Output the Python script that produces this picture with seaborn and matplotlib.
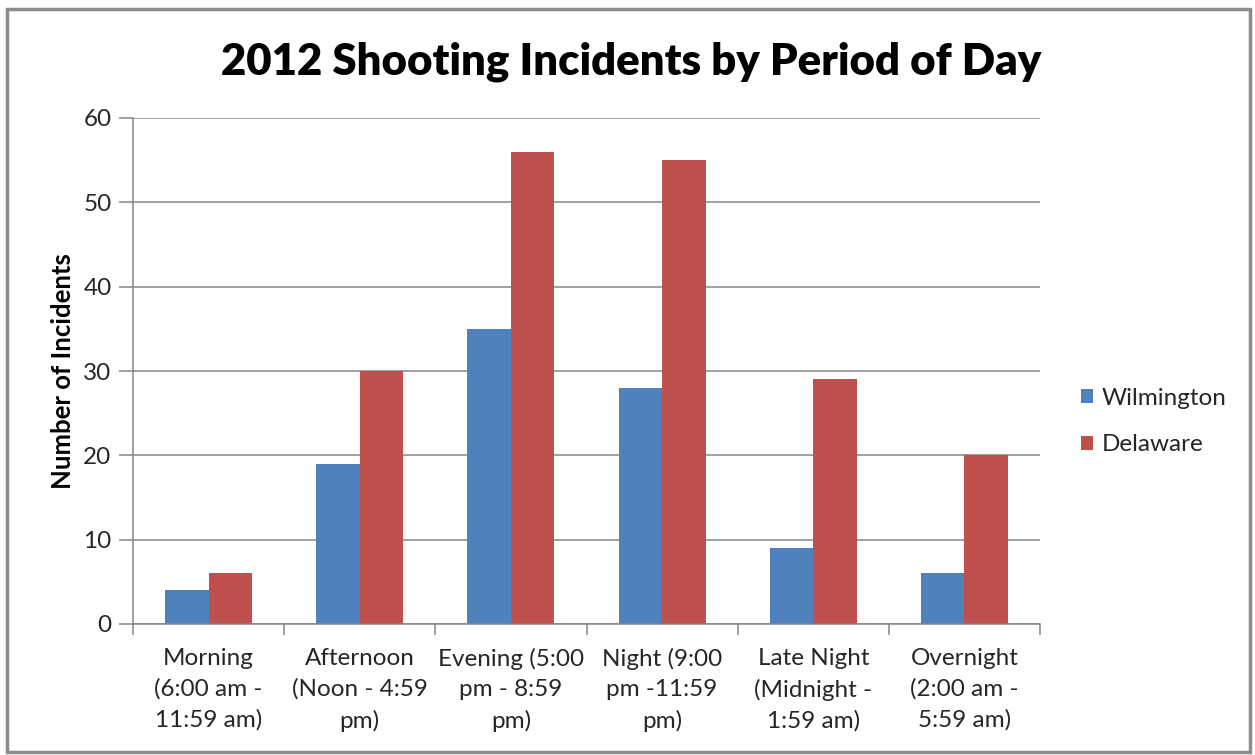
import matplotlib
matplotlib.use("Agg")
import matplotlib.pyplot as plt
from matplotlib.patches import Rectangle
from matplotlib.ticker import FixedLocator
import seaborn as sns
import pandas as pd

# Chart data
periods = [
    "Morning\n(6:00 am -\n11:59 am)",
    "Afternoon\n(Noon - 4:59\npm)",
    "Evening (5:00\npm - 8:59\npm)",
    "Night (9:00\npm -11:59\npm)",
    "Late Night\n(Midnight -\n1:59 am)",
    "Overnight\n(2:00 am -\n5:59 am)",
]
wilmington = [4, 19, 35, 28, 9, 6]
delaware = [6, 30, 56, 55, 29, 20]
series_names = ["Wilmington", "Delaware"]
y_ticks = [0, 10, 20, 30, 40, 50, 60]

df = pd.DataFrame({
    "Period": periods * 2,
    "Incidents": wilmington + delaware,
    "Area": [series_names[0]] * len(periods) + [series_names[1]] * len(periods),
})

sns.set_theme(style="white")
plt.rcParams["font.family"] = ["Lato", "DejaVu Sans"]

grid_gray = "#868686"
text_col = "#262626"
fs = 17.5

fig = plt.figure(figsize=(12.55, 7.55), dpi=100)
ax = fig.add_axes([133 / 1255, 1 - 624 / 755, (1040 - 133) / 1255, (624 - 118) / 755])

sns.barplot(
    data=df, x="Period", y="Incidents", hue="Area", order=periods,
    hue_order=series_names, palette=["#4F81BD", "#C0504D"],
    width=0.575, saturation=1, ax=ax, legend=True,
)
for p in ax.patches:
    p.set_edgecolor("none")

ax.set_xlim(-0.5, len(periods) - 0.5)
ax.set_ylim(0, 60)
ax.set_yticks(y_ticks)
ax.yaxis.grid(True, color=grid_gray, linewidth=1.1)
ax.set_axisbelow(True)

for side in ["top", "right"]:
    ax.spines[side].set_visible(False)
for side in ["left", "bottom"]:
    ax.spines[side].set_color(grid_gray)
    ax.spines[side].set_linewidth(1.1)

ax.tick_params(axis="y", which="major", direction="out", length=10, width=1.1,
               color=grid_gray, labelsize=fs, labelcolor=text_col, pad=5.5, left=True)
ax.tick_params(axis="x", which="major", length=0, labelsize=fs,
               labelcolor=text_col, pad=17)
ax.xaxis.set_minor_locator(FixedLocator([i - 0.5 for i in range(len(periods) + 1)]))
ax.tick_params(axis="x", which="minor", direction="out", length=8, width=1.1,
               color=grid_gray, bottom=True)
for lbl in ax.get_xticklabels():
    lbl.set_linespacing(1.55)

ax.set_xlabel("")
ax.set_ylabel("Number of Incidents", fontsize=18.5, fontweight="bold",
              color="black", labelpad=6)

fig.text(0.503, 0.918, "2012 Shooting Incidents by Period of Day",
         ha="center", va="center", fontsize=31.5, fontweight="heavy", color="black")

handles, labels = ax.get_legend_handles_labels()
ax.legend(handles, labels, loc="center left",
          bbox_to_anchor=(1059 / 1255, 1 - 421.5 / 755),
          bbox_transform=fig.transFigure, frameon=False, fontsize=fs,
          handlelength=0.5, handleheight=0.5, handletextpad=0.35, labelspacing=1.05,
          labelcolor=text_col)

# Outer chart frame
fig.patches.append(Rectangle((7 / 1255, 3 / 755), (1250 - 7) / 1255, (749 - 6) / 755,
                             transform=fig.transFigure, fill=False,
                             edgecolor="#8c8c8c", linewidth=2.5))

fig.savefig("out.png", dpi=100)
